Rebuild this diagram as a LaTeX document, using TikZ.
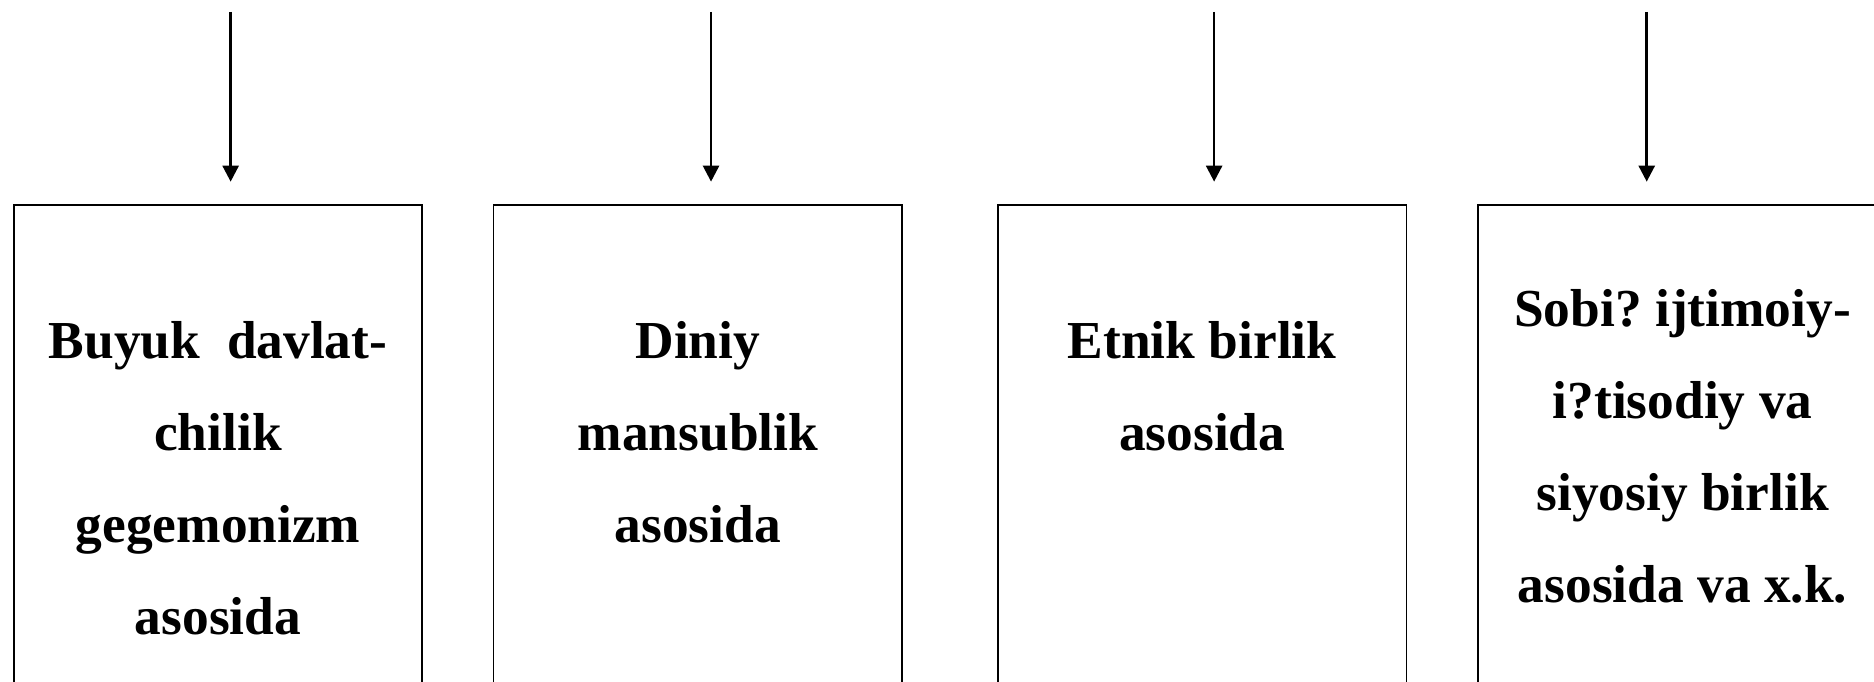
\documentclass[tikz,border=0pt]{standalone}
\usepackage{fontspec}
\setmainfont{Liberation Serif}
\usetikzlibrary{arrows.meta}
\frenchspacing
\begin{document}
\begin{tikzpicture}[x=0.5975pt,y=-0.5975pt,
  box/.style={draw, line width=0.9pt, minimum width=204.3pt, minimum height=268pt, inner sep=0pt},
  lbl/.style={align=center, anchor=north, inner sep=0pt,
    font={\fontsize{26.7}{46}\selectfont\bfseries}},
  arr/.style={line width=1.3pt, -{Triangle[length=8pt,width=8pt]}}]
\useasboundingbox (0,0) rectangle (1568.2,569.9);
\clip (0,0) rectangle (1568.2,569.9);
% boxes
\node[box] (b1) at (182.5,396) {};
\node[box] (b2) at (584,396) {};
\node[box] (b3) at (1006,396) {};
\node[box] (b4) at (1408,396) {};
% labels
\node[lbl] (t1) at (182.5,269) {Buyuk\ \ davlat-\\chilik\\gegemonizm\\asosida};
\node[lbl] (t2) at (584,269) {Diniy\\mansublik\\asosida};
\node[lbl] (t3) at (1006,269) {Etnik birlik\\asosida};
\node[lbl] (t4) at (1408,242) {Sobi? ijtimoiy-\\i?tisodiy va\\siyosiy birlik\\asosida va x.k.};
% arrow start and end points
\coordinate (s1) at (193,10);   \coordinate (e1) at (193,152);
\coordinate (s2) at (595,10);   \coordinate (e2) at (595,152);
\coordinate (s3) at (1016,10);  \coordinate (e3) at (1016,152);
\coordinate (s4) at (1378,10);  \coordinate (e4) at (1378,152);
\draw[arr] (s1) -- (e1);
\draw[arr] (s2) -- (e2);
\draw[arr] (s3) -- (e3);
\draw[arr] (s4) -- (e4);
\end{tikzpicture}
\end{document}
